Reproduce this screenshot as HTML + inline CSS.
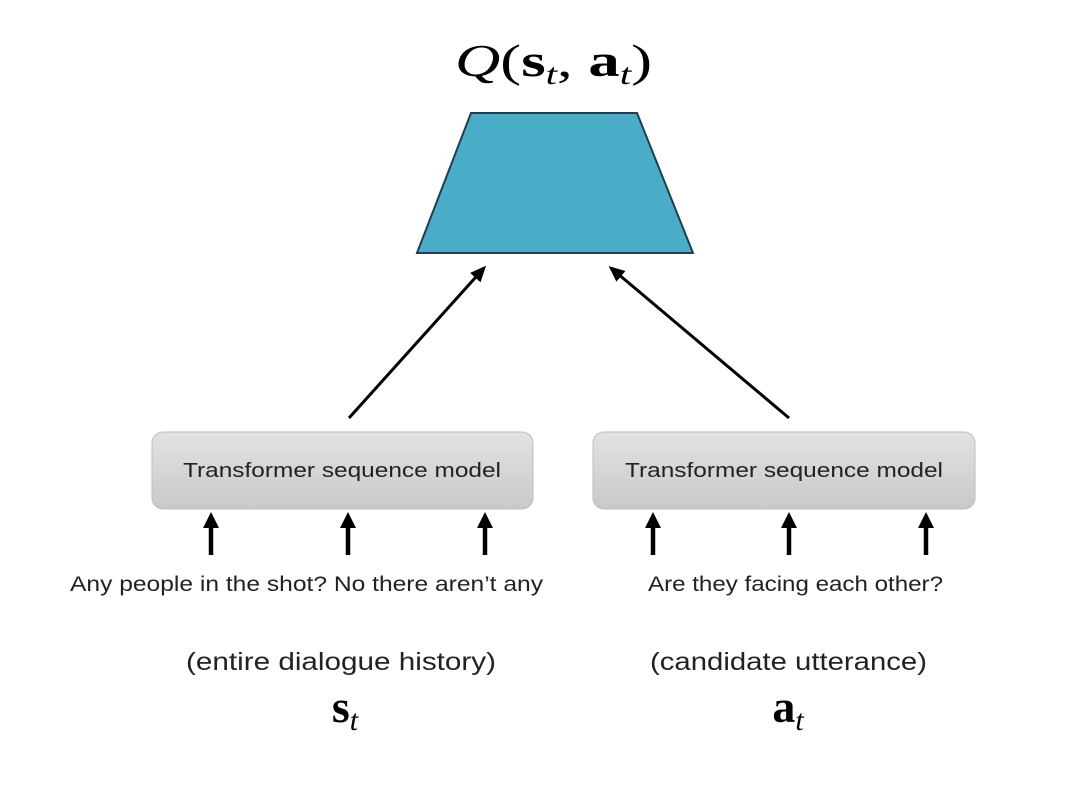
<!DOCTYPE html>
<html><head><meta charset="utf-8"><style>
html,body{margin:0;padding:0;background:#fff;}
svg{display:block}
</style></head><body>
<svg width="1092" height="808" viewBox="0 0 1092 808" xmlns="http://www.w3.org/2000/svg">
<defs>
<marker id="ah" markerWidth="16" markerHeight="14" refX="13" refY="7" orient="auto" markerUnits="userSpaceOnUse" viewBox="0 0 16 14"><path d="M0,0 L16,7 L0,14 z" fill="#000"/></marker>
<linearGradient id="bg" x1="0" y1="0" x2="0" y2="1"><stop offset="0" stop-color="#e2e2e2"/><stop offset="1" stop-color="#c9c9c9"/></linearGradient>
</defs>
<text x="455" y="76" textLength="197" lengthAdjust="spacingAndGlyphs" font-family="Liberation Serif, serif" font-size="46"><tspan font-style="italic">Q</tspan>(<tspan font-weight="bold">s</tspan><tspan font-style="italic" font-size="30" dy="8">t</tspan><tspan dy="-8">, </tspan><tspan font-weight="bold">a</tspan><tspan font-style="italic" font-size="30" dy="8">t</tspan><tspan dy="-8">)</tspan></text>
<polygon points="471,113 637,113 693,253 417,253" fill="#4aadc7" stroke="#1f3f4f" stroke-width="2"/>
<line x1="349" y1="418" x2="484" y2="268" stroke="#000" stroke-width="3" marker-end="url(#ah)"/>
<line x1="789" y1="418" x2="611" y2="268" stroke="#000" stroke-width="3" marker-end="url(#ah)"/>
<g>
<rect x="152" y="432" width="381" height="77" rx="11" fill="url(#bg)" stroke="#bdbdbd"/>
<text x="183" y="477" textLength="318" lengthAdjust="spacingAndGlyphs" font-family="Liberation Sans, sans-serif" font-size="20" fill="#222">Transformer sequence model</text>
</g>
<g>
<rect x="593" y="432" width="382" height="77" rx="11" fill="url(#bg)" stroke="#bdbdbd"/>
<text x="625" y="477" textLength="318" lengthAdjust="spacingAndGlyphs" font-family="Liberation Sans, sans-serif" font-size="20" fill="#222">Transformer sequence model</text>
</g>
<g stroke="#000" stroke-width="4.5">
<line x1="211" y1="555" x2="211" y2="526"/><line x1="348" y1="555" x2="348" y2="526"/><line x1="485" y1="555" x2="485" y2="526"/>
<line x1="653" y1="555" x2="653" y2="526"/><line x1="789" y1="555" x2="789" y2="526"/><line x1="926" y1="555" x2="926" y2="526"/>
</g>
<g fill="#000">
<polygon points="203,528 219,528 211,512"/><polygon points="340,528 356,528 348,512"/><polygon points="477,528 493,528 485,512"/>
<polygon points="645,528 661,528 653,512"/><polygon points="781,528 797,528 789,512"/><polygon points="918,528 934,528 926,512"/>
</g>
<text x="70" y="591" textLength="473" lengthAdjust="spacingAndGlyphs" font-family="Liberation Sans, sans-serif" font-size="21" fill="#222">Any people in the shot? No there aren’t any</text>
<text x="648" y="591" textLength="295" lengthAdjust="spacingAndGlyphs" font-family="Liberation Sans, sans-serif" font-size="21" fill="#222">Are they facing each other?</text>
<text x="186" y="670" textLength="310" lengthAdjust="spacingAndGlyphs" font-family="Liberation Sans, sans-serif" font-size="25" fill="#222">(entire dialogue history)</text>
<text x="650" y="670" textLength="277" lengthAdjust="spacingAndGlyphs" font-family="Liberation Sans, sans-serif" font-size="25" fill="#222">(candidate utterance)</text>
<text x="345" y="722" text-anchor="middle" font-family="Liberation Serif, serif" font-size="46"><tspan font-weight="bold">s</tspan><tspan font-style="italic" font-size="30" dy="8">t</tspan></text>
<text x="788" y="722" text-anchor="middle" font-family="Liberation Serif, serif" font-size="46"><tspan font-weight="bold">a</tspan><tspan font-style="italic" font-size="30" dy="8">t</tspan></text>
</svg>
</body></html>
